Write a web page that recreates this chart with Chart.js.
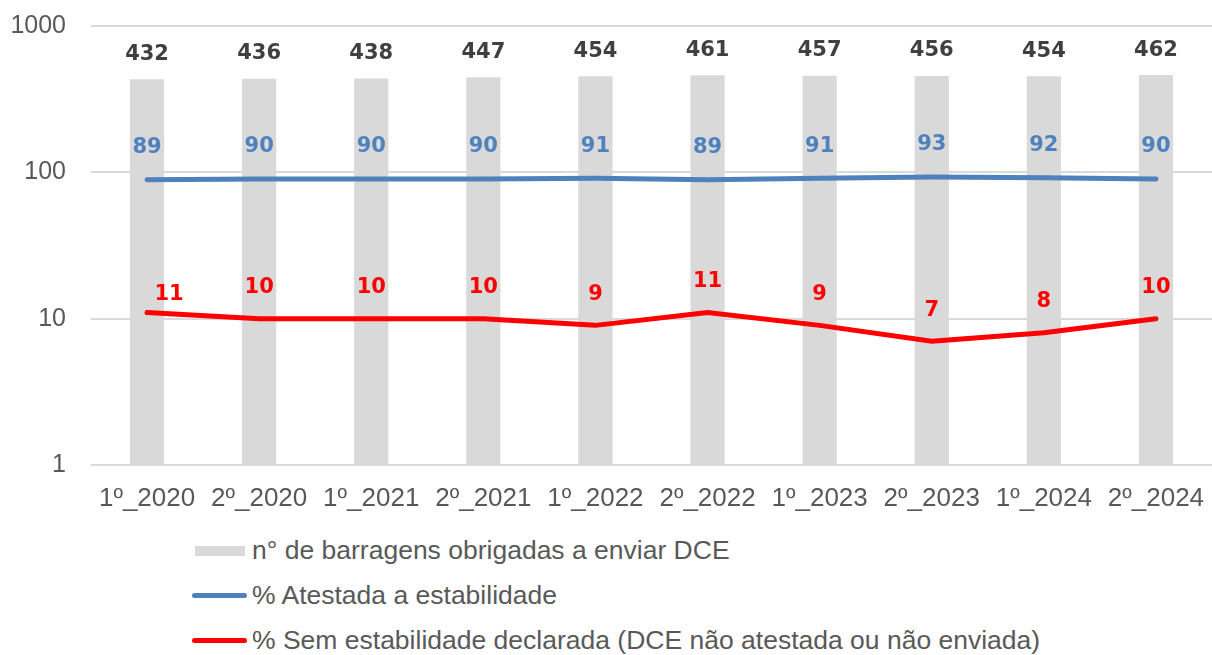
<!DOCTYPE html>
<html>
<head>
<meta charset="utf-8">
<script src="https://cdn.jsdelivr.net/npm/chart.js@4"></script>
<style>
  body { margin: 0; background: #fff; font-family: "Liberation Sans", Arial, sans-serif; }
  #wrap { position: relative; width: 1212px; height: 655px; }
  #chartBox { position: absolute; left: 0; top: 0; width: 1212px; height: 525px; }
  #legend { position: absolute; left: 192px; top: 528px; color: #595959; font-size: 26.5px; }
  .row { height: 45px; display: flex; align-items: center; }
  .sw { display: inline-block; width: 55px; margin-right: 5px; }
  .sw.bar { height: 10px; background: #d9d9d9; width: 50px; margin-left: 3px; margin-right: 7px; }
  .sw.line { height: 5px; border-radius: 3px; }
</style>
</head>
<body>
<div id="wrap">
  <div id="chartBox"><canvas id="chart"></canvas></div>
  <div id="legend"></div>
</div>
<script>
const periods = ['1º_2020', '2º_2020', '1º_2021', '2º_2021', '1º_2022', '2º_2022', '1º_2023', '2º_2023', '1º_2024', '2º_2024'];
const damsRequired = [432, 436, 438, 447, 454, 461, 457, 456, 454, 462];
const pctAttested = [89, 90, 90, 90, 91, 89, 91, 93, 92, 90];
const pctNoStability = [11, 10, 10, 10, 9, 11, 9, 7, 8, 10];
const yTicks = [1, 10, 100, 1000];

const valueLabels = {
    id: 'valueLabels',
    afterDatasetsDraw(chart) {
        const ctx = chart.ctx;
        ctx.save();
        ctx.font = 'bold 21px "DejaVu Sans"';
        ctx.textAlign = 'center';
        ctx.textBaseline = 'middle';
        chart.data.datasets.forEach((ds, i) => {
            const meta = chart.getDatasetMeta(i);
            ctx.fillStyle = ds.labelColor;
            meta.data.forEach((el, j) => {
                // excel nudged the first red label to the right
                const first = j === 0 && ds.firstLabelNudge;
                const dx = first ? ds.firstLabelNudge[0] : 0;
                const dy = first ? ds.firstLabelNudge[1] : ds.labelOffset;
                ctx.fillText(ds.data[j], el.x + dx, el.y - dy);
            });
        });
        ctx.restore();
    }
};

const ctx = document.getElementById('chart').getContext('2d');
const chart = new Chart(ctx, {
    type: 'bar',
    data: {
        labels: periods,
        datasets: [
            {
                type: 'line',
                label: '% Atestada a estabilidade',
                data: pctAttested,
                borderColor: '#4f81bd',
                borderWidth: 5,
                borderCapStyle: 'round',
                pointRadius: 0,
                tension: 0,
                order: 1,
                labelColor: '#4f81bd',
                labelOffset: 32
            },
            {
                type: 'line',
                label: '% Sem estabilidade declarada (DCE não atestada ou não enviada)',
                data: pctNoStability,
                borderColor: '#ff0000',
                borderWidth: 5,
                borderCapStyle: 'round',
                pointRadius: 0,
                tension: 0,
                order: 1,
                labelColor: '#ff0000',
                labelOffset: 31,
                firstLabelNudge: [22, 18]
            },
            {
                label: 'n° de barragens obrigadas a enviar DCE',
                data: damsRequired,
                backgroundColor: '#d9d9d9',
                barPercentage: 0.305,
                categoryPercentage: 1,
                order: 2,
                labelColor: '#404040',
                labelOffset: 25
            }
        ]
    },
    options: {
        responsive: true,
        maintainAspectRatio: false,
        animation: false,
        layout: { padding: { top: 26, right: 0, left: 0, bottom: 0 } },
        plugins: {
            legend: { display: false },
            tooltip: { enabled: false }
        },
        scales: {
            x: {
                grid: { display: false },
                border: { display: false },
                ticks: { color: '#595959', font: { family: '"Liberation Sans", Arial', size: 26 }, padding: 10, maxRotation: 0 },
                afterFit(scale) {
                    scale.height = 60;
                    scale.paddingLeft = 0;
                    scale.paddingRight = 0;
                }
            },
            y: {
                type: 'logarithmic',
                min: 1,
                max: 1000,
                afterBuildTicks(scale) { scale.ticks = yTicks.map(v => ({ value: v })); },
                afterFit(scale) {
                    scale.width = 91;
                    scale.paddingTop = 0;
                    scale.paddingBottom = 0;
                },
                grid: { color: '#d9d9d9', lineWidth: 2, drawTicks: false },
                border: { display: false },
                ticks: {
                    color: '#595959',
                    font: { family: '"Liberation Sans", Arial', size: 25 },
                    padding: 25,
                    callback: v => String(v)
                }
            }
        }
    },
    plugins: [valueLabels]
});

// legend: bars first, then lines
const legend = document.getElementById('legend');
[2, 0, 1].forEach(i => {
    const ds = chart.data.datasets[i];
    const row = document.createElement('div');
    row.className = 'row';
    const sw = document.createElement('span');
    if (ds.type === 'line') {
        sw.className = 'sw line';
        sw.style.background = ds.borderColor;
    } else {
        sw.className = 'sw bar';
    }
    const txt = document.createElement('span');
    txt.textContent = ds.label;
    row.appendChild(sw);
    row.appendChild(txt);
    legend.appendChild(row);
});
</script>
</body>
</html>
